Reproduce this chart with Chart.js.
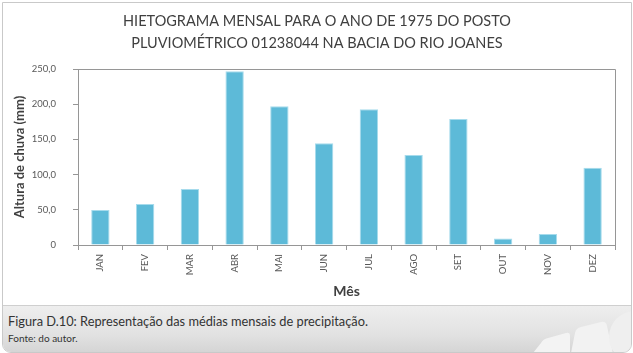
<!DOCTYPE html>
<html>
<head>
<meta charset="utf-8">
<script src="https://cdn.jsdelivr.net/npm/chart.js@4.4.0/dist/chart.umd.min.js"></script>
<style>
  html,body{margin:0;padding:0;background:#fff;}
  #wrap{position:relative;width:633px;height:353px;overflow:hidden;background:#fff;}
  #frame{position:absolute;left:2px;top:2px;width:628px;height:349px;border:1px solid #c9c9c9;border-radius:0 0 9px 9px;overflow:hidden;background:#fff;}
  #footer{position:absolute;left:0;top:302px;width:628px;height:47px;border-top:1px solid #cfcfcf;
    background:linear-gradient(180deg,#eeeeee 0%,#e2e2e2 60%,#d4d4d4 100%);}
  #cap1{position:absolute;left:5px;top:7px;font-family:Lato,sans-serif;font-size:12.8px;color:#333;white-space:nowrap;}
  #cap2{position:absolute;left:5px;top:26px;font-family:Lato,sans-serif;font-size:10px;color:#333;white-space:nowrap;}
  #logo{position:absolute;left:0;top:0;}
  canvas{position:absolute;left:0;top:0;}
</style>
</head>
<body>
<div id="wrap">
  <div id="frame">
    <div id="footer">
      <svg id="logo" width="628" height="47">
        <path d="M538 37 Q540 33 545 32 L563 27 Q567 26 567 30 L567 47 L530 47 Z" fill="#f3f3f3"/>
        <path d="M572 27 Q573 22 578 21 L598 16 Q603 15 604 20 L610 47 L568 47 Z" fill="#f2f2f2"/>
        <circle cx="632" cy="31" r="26" fill="#efefef"/>
      </svg>
      <div id="cap1">Figura D.10: Representação das médias mensais de precipitação.</div>
      <div id="cap2">Fonte: do autor.</div>
    </div>
  </div>
  <canvas id="c" width="633" height="353"></canvas>
</div>
<script>
const titleLines = ['HIETOGRAMA MENSAL PARA O ANO DE 1975 DO POSTO', 'PLUVIOMÉTRICO 01238044 NA BACIA DO RIO JOANES'];
const months = ['JAN','FEV','MAR','ABR','MAI','JUN','JUL','AGO','SET','OUT','NOV','DEZ'];
const rainfall = [49.7, 58.2, 79.5, 246.7, 197.0, 144.5, 193.0, 128.0, 179.0, 9.4, 15.6, 109.8];
const yTickValues = [0, 50, 100, 150, 200, 250];
const yTickLabels = ['0', '50,0', '100,0', '150,0', '200,0', '250,0'];
const yAxisTitle = 'Altura de chuva (mm)';
const xAxisTitle = 'Mês';

const boxPlugin = {
  id: 'box',
  afterDraw(chart) {
    const {ctx, chartArea: a} = chart;
    ctx.save();
    ctx.strokeStyle = '#969696';
    ctx.lineWidth = 1;
    ctx.beginPath();
    ctx.moveTo(Math.round(a.left) + 0.5, Math.round(a.top) + 0.5);
    ctx.lineTo(Math.round(a.right) + 0.5, Math.round(a.top) + 0.5);
    ctx.lineTo(Math.round(a.right) + 0.5, Math.round(a.bottom) + 0.5);
    ctx.stroke();
    ctx.restore();
  }
};

new Chart(document.getElementById('c'), {
  type: 'bar',
  data: {
    labels: months,
    datasets: [{
      data: rainfall,
      backgroundColor: '#5dbad8',
      borderColor: '#a6dbec',
      borderWidth: {top: 1, left: 1, right: 1, bottom: 0},
      barPercentage: 0.41,
      categoryPercentage: 1.0
    }]
  },
  options: {
    responsive: false,
    devicePixelRatio: 1,
    animation: false,
    layout: {padding: {top: 0, left: 19, right: 18, bottom: 50}},
    plugins: {
      legend: {display: false},
      tooltip: {enabled: false},
      title: {
        display: true,
        text: titleLines,
        color: '#404040',
        font: {family: 'Lato', size: 14.5, weight: 'normal', lineHeight: '22px'},
        padding: {top: 10, bottom: 15}
      }
    },
    scales: {
      x: {
        grid: {display: true, drawOnChartArea: false, drawTicks: true, tickLength: 5, color: '#969696', offset: true},
        border: {display: true, color: '#969696'},
        ticks: {color: '#595959', font: {family: 'Lato', size: 9.5}, minRotation: 90, maxRotation: 90, padding: 4, autoSkip: false},
        title: {display: true, text: xAxisTitle, color: '#404040', font: {family: 'Lato', size: 14, weight: 'bold', lineHeight: '16px'}, padding: {top: 0, bottom: 4}},
        afterFit(scale) { scale.height = 58; }
      },
      y: {
        min: 0, max: 250,
        afterBuildTicks(scale) { scale.ticks = yTickValues.map(v => ({value: v})); },
        grid: {display: true, drawOnChartArea: false, drawTicks: true, tickLength: 5, color: '#969696'},
        border: {display: true, color: '#969696'},
        ticks: {
          color: '#595959', font: {family: 'Lato', size: 9.5}, padding: 17,
          callback(v) { const i = yTickValues.indexOf(v); return i >= 0 ? yTickLabels[i] : ''; }
        },
        title: {display: true, text: yAxisTitle, color: '#404040', font: {family: 'Lato', size: 13, weight: 'bold', lineHeight: '16px'}, padding: {top: -7, bottom: 0}},
        afterFit(scale) { scale.width = 59; }
      }
    }
  },
  plugins: [boxPlugin]
});
</script>
</body>
</html>
